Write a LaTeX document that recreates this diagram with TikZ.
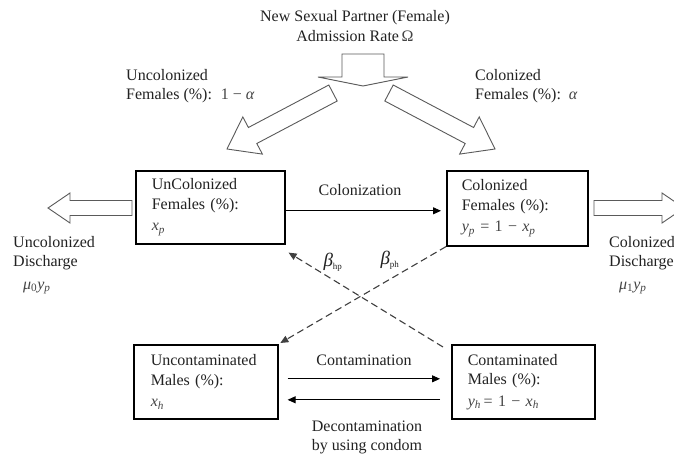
\documentclass[tikz,border=0pt]{standalone}
\usepackage{fontspec}
\setmainfont{Liberation Serif}
\usetikzlibrary{arrows.meta}
\definecolor{ink}{HTML}{222222}
\definecolor{mathc}{HTML}{444444}
\definecolor{blockc}{HTML}{5A5A5A}
\newcommand{\mi}[1]{{\itshape #1}}
\newcommand{\mth}[1]{{\color{mathc}#1}}
\begin{document}
\begin{tikzpicture}[x=1pt,y=-1pt,
  font=\fontsize{16}{19.5}\selectfont, text=ink,
  box/.style={draw=black, line width=1.6pt, rectangle, anchor=north west, align=left},
  blockarrow/.style={draw=blockc, line width=0.9pt, fill=white, line join=miter},
  conn/.style={draw=black, line width=0.9pt, -{Triangle[length=8pt,width=7pt]}},
  dashconn/.style={draw=black!75, line width=1.1pt, dash pattern=on 7pt off 4pt, -{Triangle[length=8pt,width=7pt]}},
  lbl/.style={align=left, inner sep=0pt}]
\clip (0,0) rectangle (674,461);
\fill[white] (0,0) rectangle (674,461);

% title
\node[align=center, inner sep=0pt] (title) at (355,26) {New Sexual Partner (Female)\\Admission Rate\,\mth{Ω}};

% block arrows
\draw[blockarrow] (342,54) -- (384,54) -- (384,77) -- (408,77) -- (363,86) -- (318,77) -- (342,77) -- cycle;
\draw[blockarrow] (328.8,85.0) -- (248.4,127.5) -- (242.8,116.9) -- (227,149) -- (262.4,154.1) -- (256.8,143.5) -- (337.2,101.0) -- cycle;
\draw[blockarrow] (393.2,85.0) -- (473.6,127.5) -- (479.2,116.9) -- (495,149) -- (459.6,154.1) -- (465.2,143.5) -- (384.8,101.0) -- cycle;
\draw[blockarrow] (132,200.5) -- (70,200.5) -- (70,193) -- (48,208) -- (70,223) -- (70,215.5) -- (132,215.5) -- cycle;
\draw[blockarrow] (594,200.5) -- (662,200.5) -- (662,193) -- (684,208) -- (662,223) -- (662,215.5) -- (594,215.5) -- cycle;

% upper labels
\node[lbl, anchor=west] (ulab) at (126,86) {Uncolonized\\Females (\%):\hspace{9pt}\mth{1 − \mi{α}}};
\node[lbl, anchor=west] (clab) at (475,86) {Colonized\\Females (\%):\hspace{8pt}\mth{\mi{α}}};

% boxes
\node[box, minimum width=149pt, minimum height=73pt, inner xsep=16pt, text width=117pt] (uf) at (135,170)
  {UnColonized\\Females (\%):\\[2pt]\mth{\mi{x}\textsubscript{\mi{p}}}};
\node[box, minimum width=141pt, minimum height=75pt, inner xsep=15pt, text width=111pt] (cf) at (446,170)
  {Colonized\\Females (\%):\\[2pt]\mth{\mi{y}\textsubscript{\mi{p}}\,\,= 1 − \mi{x}\textsubscript{\mi{p}}}};
\node[box, minimum width=144pt, minimum height=74pt, inner xsep=17pt, text width=110pt] (um) at (133,344)
  {Uncontaminated\\Males (\%):\\[2pt]\mth{\mi{x}\textsubscript{\mi{h}}}};
\node[box, minimum width=143pt, minimum height=74pt, inner xsep=16pt, text width=111pt] (cm) at (451,344)
  {Contaminated\\Males (\%):\\[2pt]\mth{\mi{y}\textsubscript{\mi{h}}\,= 1 − \mi{x}\textsubscript{\mi{h}}}};

% discharge labels
\node[lbl, anchor=north west] (udis) at (13,236) {Uncolonized\\Discharge\\[3pt]\hspace{10pt}\mth{\mi{μ}\textsubscript{0}\mi{y}\textsubscript{\mi{p}}}};
\node[lbl, anchor=north west] (cdis) at (609,236) {Colonized\\Discharge\\[3pt]\hspace{10pt}\mth{\mi{μ}\textsubscript{1}\mi{y}\textsubscript{\mi{p}}}};

% connectors
\draw[conn, shorten >=5pt] ([yshift=-3.5pt]uf.east) -- ([yshift=-3.5pt]uf.east -| cf.west);
\node[inner sep=0pt] (colon) at (360,190) {Colonization};

\draw[conn, shorten <=9pt, shorten >=11pt] ([yshift=3pt]um.east) -- ([yshift=3pt]um.east -| cm.west);
\draw[conn, shorten <=11pt, shorten >=9pt] ([yshift=-18pt]cm.west) -- ([yshift=-18pt]cm.west -| um.east);
\node[inner sep=0pt] (contam) at (364,360) {Contamination};
\node[align=center, inner sep=0pt] (decon) at (367,437.5) {Decontamination\\by using condom};

\draw[dashconn, shorten >=2pt] (cf.south west) -- (um.north east);
\draw[dashconn] ([xshift=-8pt,yshift=-3pt]cm.north west) -- ([xshift=3pt,yshift=-8pt]uf.south east);

\node[inner sep=0pt] (bhp) at (333,262) {{\fontsize{19}{20}\selectfont\mi{β}}\textsubscript{\fontsize{9}{10}\selectfont hp}};
\node[inner sep=0pt] (bph) at (390,260) {{\fontsize{19}{20}\selectfont\mi{β}}\textsubscript{\fontsize{9}{10}\selectfont ph}};
\end{tikzpicture}
\end{document}
